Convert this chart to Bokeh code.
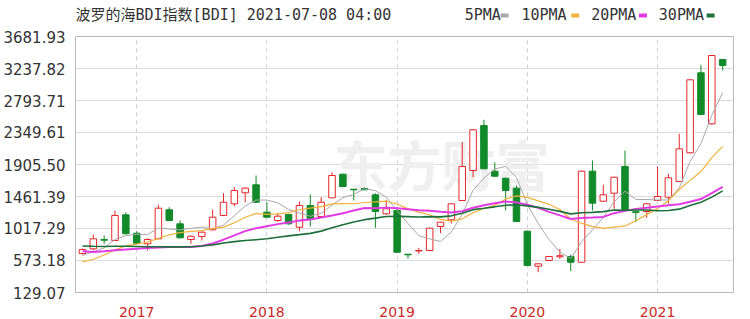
import pandas as pd
from bokeh.plotting import figure
from bokeh.layouts import column
from bokeh.models import ColumnDataSource, Range1d, FixedTicker, PrintfTickFormatter, Label
from bokeh.core.properties import value
from bokeh.embed import file_html
from bokeh.resources import INLINE

# ---- data (monthly candles, Aug 2016 .. Jul 2021) ----
months = pd.period_range("2016-08", "2021-07", freq="M").strftime("%Y-%m").tolist()

opens = [670, 735, 865, 851, 1207, 952, 805, 874, 1277, 1082,
         865, 906, 999, 1198, 1360, 1513, 1624, 1244, 1128, 1212,
         1035, 1337, 1184, 1443, 1770, 1562, 1572, 1485, 1221, 1267,
         660, 705, 712, 1045, 1138, 1406, 1822, 2447, 1813, 1715,
         1577, 980, 494, 573, 625, 629, 549, 1813, 1396, 1507,
         1878, 1250, 1253, 1406, 1452, 1670, 2068, 3178, 2470, 3363]
highs = [740, 934, 920, 1267, 1240, 980, 880, 1346, 1313, 1128,
         920, 975, 1277, 1507, 1590, 1590, 1753, 1382, 1230, 1220,
         1392, 1489, 1452, 1799, 1780, 1565, 1590, 1507, 1415, 1313,
         665, 749, 1030, 1110, 1365, 2215, 2395, 2526, 1937, 1720,
         1614, 990, 530, 635, 735, 655, 1820, 1961, 1624, 1735,
         2100, 1252, 1365, 1878, 1777, 2332, 3090, 3289, 3425, 3370]
lows = [655, 715, 805, 845, 935, 805, 712, 870, 1120, 880,
        805, 851, 990, 1190, 1327, 1382, 1375, 1165, 1110, 1070,
        980, 1045, 1175, 1440, 1595, 1406, 1550, 1027, 1210, 680,
        597, 666, 705, 952, 1087, 1400, 1729, 1840, 1735, 1267,
        1110, 500, 411, 570, 597, 425, 545, 1267, 1390, 1291,
        1275, 1105, 1166, 1400, 1360, 1665, 2060, 2590, 2460, 3210]
closes = [726, 874, 855, 1198, 944, 813, 865, 1299, 1128, 888,
          910, 966, 1174, 1382, 1545, 1577, 1382, 1174, 1188, 1082,
          1336, 1156, 1382, 1753, 1600, 1555, 1555, 1253, 1291, 688,
          652, 712, 1021, 1105, 1360, 1878, 2387, 1846, 1743, 1545,
          1115, 504, 527, 629, 640, 549, 1813, 1369, 1485, 1729,
          1281, 1240, 1360, 1461, 1721, 2123, 3081, 2599, 3418, 3279]

ma5 = [641, 696, 747, 867, 919, 937, 935, 1024, 1010, 999,
       1018, 1038, 1013, 1064, 1195, 1329, 1412, 1412, 1373, 1281,
       1232, 1187, 1229, 1342, 1445, 1489, 1569, 1543, 1451, 1268,
       1088, 919, 873, 836, 970, 1215, 1550, 1715, 1843, 1880,
       1727, 1351, 1087, 864, 690, 600, 832, 1000, 1171, 1389,
       1535, 1421, 1419, 1414, 1413, 1581, 1949, 2197, 2588, 2900]
ma10 = [555, 590, 650, 720, 775, 800, 830, 880, 930, 959,
        977, 987, 1019, 1037, 1097, 1173, 1225, 1213, 1219, 1238,
        1281, 1300, 1320, 1358, 1363, 1361, 1378, 1386, 1396, 1357,
        1289, 1244, 1208, 1143, 1119, 1152, 1235, 1294, 1339, 1425,
        1471, 1450, 1401, 1353, 1281, 1149, 1091, 1043, 1018, 1036,
        1053, 1126, 1210, 1293, 1401, 1558, 1685, 1808, 2001, 2156]
ma20 = [700, 690, 700, 715, 725, 735, 745, 755, 760, 760,
        762, 776, 811, 862, 922, 981, 1020, 1049, 1078, 1099,
        1129, 1143, 1169, 1197, 1230, 1267, 1302, 1299, 1307, 1297,
        1285, 1272, 1264, 1250, 1241, 1256, 1306, 1340, 1368, 1391,
        1380, 1347, 1305, 1248, 1200, 1150, 1163, 1169, 1178, 1230,
        1262, 1288, 1305, 1323, 1341, 1353, 1388, 1426, 1509, 1596]
ma30 = [775, 770, 768, 770, 770, 768, 765, 765, 762, 762,
        765, 775, 790, 815, 835, 850, 862, 875, 895, 915,
        932, 950, 981, 1027, 1069, 1108, 1140, 1161, 1184, 1185,
        1182, 1177, 1182, 1179, 1193, 1229, 1279, 1298, 1318, 1340,
        1347, 1331, 1310, 1285, 1255, 1220, 1235, 1241, 1251, 1273,
        1271, 1274, 1273, 1263, 1267, 1286, 1337, 1382, 1453, 1539]

y_ticks = [129.07, 573.18, 1017.29, 1461.39, 1905.50, 2349.61, 2793.71, 3237.82, 3681.93]
year_labels = ["2017", "2018", "2019", "2020", "2021"]

title_text = "波罗的海BDI指数[BDI] 2021-07-08 04:00"
legend_names = ["5PMA", "10PMA", "20PMA", "30PMA"]

# ---- styles ----
RED = "#e5262b"
GREEN = "#128a2a"
MA_COLORS = ["#a8a8a8", "#f2b13a", "#e33be3", "#1d6f3c"]
MA_WIDTHS = [1, 1.2, 2, 1.6]
FONT = "DejaVu Sans Mono, Noto Sans CJK SC"
BL, BR = 72, 17          # left / right borders (frame spans canvas px 72..733)

# ---- header strip: title + legend (coordinates = canvas pixels) ----
HEAD_H = 28
head = figure(width=750, height=HEAD_H, output_backend="svg", toolbar_location=None,
              x_range=Range1d(BL, 750 - BR), y_range=Range1d(HEAD_H, 0),
              x_axis_type=None, y_axis_type=None,
              min_border_left=BL, min_border_right=BR, min_border_top=0, min_border_bottom=0,
              background_fill_color="white", border_fill_color="white")
head.outline_line_color = None
head.grid.visible = False
head.text(x=[72], y=[14], text=[title_text], text_font=value(FONT), text_font_size="15px",
          text_color="#333333", text_baseline="middle", text_align="left")
head.text(x=[463, 520, 590, 658], y=[14] * 4, text=legend_names, text_font=value(FONT),
          text_font_size="15px", text_color="#333333", text_baseline="middle", text_align="left")
head.rect(x=[503, 574, 642, 710], y=[15] * 4, width=8, height=4, fill_color=MA_COLORS,
          line_color=None)

# ---- main chart ----
x = list(range(len(months)))
up = [c >= o for o, c in zip(opens, closes)]
src = ColumnDataSource(dict(
    x=x, month=months, open=opens, high=highs, low=lows, close=closes,
    top=[max(o, c) for o, c in zip(opens, closes)],
    bottom=[min(o, c) for o, c in zip(opens, closes)],
    color=[RED if u else GREEN for u in up],
    fill=["#ffffff" if u else GREEN for u in up],
    ma5=ma5, ma10=ma10, ma20=ma20, ma30=ma30,
))

p = figure(width=750, height=319 - HEAD_H, output_backend="svg", toolbar_location=None,
           x_range=Range1d(-0.64, 60.0), y_range=Range1d(129.07, 3681.93),
           min_border_left=BL, min_border_right=BR, min_border_top=36 - HEAD_H,
           min_border_bottom=27,
           background_fill_color="white", border_fill_color="white")
p.outline_line_color = "#b8b8b8"

# watermark
wm = Label(x=258, y=129, x_units="screen", y_units="screen", text="东方财富",
           text_font="Noto Sans CJK SC", text_font_size="54px", text_font_style="bold",
           text_color="#efefef", text_baseline="middle", text_align="left", level="underlay")
p.add_layout(wm)

# candles
p.segment("x", "high", "x", "low", source=src, color="color", line_width=1)
p.vbar(x="x", top="top", bottom="bottom", width=0.6, source=src,
       fill_color="fill", line_color="color", line_width=1)

# moving averages
for key, col, w in zip(["ma5", "ma10", "ma20", "ma30"], MA_COLORS, MA_WIDTHS):
    p.line("x", key, source=src, color=col, line_width=w)

# axes
year_pos = [months.index(y + "-01") for y in year_labels]
p.xaxis.ticker = FixedTicker(ticks=year_pos)
p.xaxis.major_label_overrides = {pos: lab for pos, lab in zip(year_pos, year_labels)}
p.yaxis.ticker = FixedTicker(ticks=y_ticks)
p.yaxis.formatter = PrintfTickFormatter(format="%.2f")
for ax in (p.xaxis, p.yaxis):
    ax.axis_line_color = None
    ax.major_tick_line_color = None
    ax.minor_tick_line_color = None
    ax.major_label_text_font = "DejaVu Sans"
p.yaxis.major_label_text_font_size = "15px"
p.yaxis.major_label_text_color = "#333333"
p.yaxis.major_label_standoff = 4
p.xaxis.major_label_text_font_size = "14px"
p.xaxis.major_label_text_color = "#cc2a2a"
p.xaxis.major_label_standoff = 8

p.xgrid.grid_line_color = "#cfcfcf"
p.xgrid.grid_line_dash = "4 4"
p.ygrid.grid_line_color = "#dcdcdc"

layout = column(head, p, spacing=0)
open("out.html", "w").write(file_html(layout, INLINE))
